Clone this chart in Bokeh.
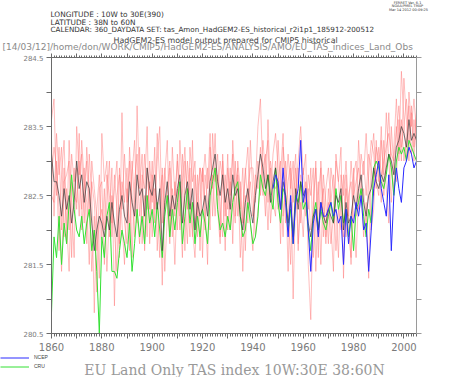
from bokeh.plotting import figure
from bokeh.models import (Range1d, LinearAxis, FixedTicker, CustomJSTickFormatter,
                          Label, Legend, LegendItem)
from bokeh.embed import file_html
from bokeh.resources import INLINE

# ---------------- data ----------------
years = list(range(1860, 2006))
ncep_years = list(range(1948, 2006))

ens_mean = [
    283.1, 282.7, 282.7, 282.5, 282.2, 282.6, 282.3, 282.5, 282.1, 282.4,
    283.0, 282.6, 282.8, 282.4, 282.7, 282.6, 282.1, 281.7, 282.0, 282.2,
    282.1, 281.9, 282.2, 282.0, 282.4, 282.1, 281.9, 282.3, 282.5, 282.2,
    282.1, 282.7, 282.4, 282.2, 282.8, 282.5, 282.6, 282.2, 282.9, 282.6,
    282.5, 282.8, 282.3, 282.6, 281.7, 282.4, 282.7, 282.2, 282.5, 282.3,
    282.6, 282.8, 282.1, 282.5, 282.7, 282.3, 282.6, 282.0, 282.4, 282.2,
    282.3, 282.5, 282.2, 282.7, 282.9, 283.1, 282.7, 282.5, 282.8, 282.4,
    282.6, 282.3, 282.8, 282.5, 282.6, 282.2, 282.0, 282.4, 282.6, 282.3,
    282.1, 282.5, 282.8, 283.1, 282.9, 282.6, 282.8, 282.4, 282.7, 282.9,
    282.6, 282.3, 282.7, 282.5, 282.1, 282.4, 281.9, 282.6, 282.3, 282.7,
    282.5, 282.6, 282.1, 281.9, 282.2, 282.3, 282.0, 282.4, 282.2, 282.1,
    282.3, 282.2, 282.1, 282.5, 282.4, 282.6, 282.0, 282.4, 282.1, 282.2,
    282.5, 282.3, 282.6, 282.8, 282.4, 282.2, 282.5, 282.6, 282.9, 282.7,
    282.6, 282.8, 282.7, 282.9, 283.1, 283.0, 282.8, 283.2, 283.3, 283.5,
    283.4, 283.2, 283.6, 283.3, 283.4, 283.3,
]

cru = [
    280.8, 281.9, 281.6, 282.2, 281.5, 282.1, 281.8, 282.4, 282.8, 282.3,
    282.0, 281.9, 282.2, 281.8, 282.1, 282.3, 281.7, 282.0, 281.4, 280.5,
    281.9, 281.6, 282.2, 282.4, 281.4, 281.4, 281.3, 281.7, 282.0, 281.8,
    281.6, 282.1, 281.4, 281.8, 282.3, 281.9, 282.2, 281.8, 282.5, 282.1,
    282.3, 281.9, 282.4, 282.0, 281.6, 282.2, 282.5, 281.9, 282.3, 282.0,
    282.4, 282.7, 281.8, 282.2, 282.6, 282.1, 282.4, 281.8, 282.2, 281.9,
    282.3, 282.1, 281.8, 282.5, 282.7, 282.9, 282.3, 282.0, 282.1, 281.9,
    282.2, 282.0, 282.4, 282.6, 282.7, 282.2, 281.9, 282.0, 282.4, 282.1,
    281.8, 281.9, 282.2, 282.8, 282.6, 282.5, 282.8, 282.5, 282.3, 282.9,
    282.4, 282.1, 282.6, 282.5, 282.0, 282.3, 281.8, 282.5, 282.4, 282.7,
    282.3, 282.4, 282.0, 281.7, 282.2, 282.4, 282.0, 282.3, 282.1, 282.0,
    282.2, 282.4, 282.1, 282.6, 282.3, 282.5, 282.1, 282.3, 281.9, 282.2,
    281.7, 282.3, 282.4, 282.6, 282.2, 281.9, 282.3, 282.1, 282.9, 283.0,
    282.9, 282.7, 282.6, 282.8, 283.1, 282.9, 282.5, 283.0, 283.2, 283.1,
    283.2, 283.0, 283.3, 283.2, 283.1, 283.0,
]

ncep = [
    282.6, 282.8,
    282.7, 282.3, 282.9, 282.4, 281.9, 282.5, 281.8, 282.4, 282.6, 283.3,
    282.4, 282.6, 282.0, 281.4, 282.1, 282.3, 281.9, 282.4, 282.2, 282.2,
    282.3, 282.4, 282.2, 282.3, 282.1, 282.2, 281.5, 282.3, 281.8, 282.2,
    282.1, 282.4, 282.2, 282.5, 282.0, 282.1, 281.4, 282.0, 282.6, 282.8,
    283.0, 282.6, 282.4, 282.2, 282.8, 281.7, 282.5, 282.9, 282.6, 282.4,
    282.9, 283.0, 283.2, 283.1, 282.9, 283.0,
]

member_1 = [
    283.6, 283.9, 282.5, 283.2, 282.0, 282.9, 281.8, 283.3, 282.4, 281.6,
    283.5, 282.8, 283.1, 282.1, 283.2, 282.6, 281.4, 282.2, 281.1, 282.6,
    282.7, 281.5, 282.4, 283.0, 281.9, 282.8, 282.3, 281.6, 283.7, 282.1,
    281.8, 283.2, 282.5, 281.9, 283.8, 282.6, 283.1, 281.7, 282.9, 282.3,
    283.0, 282.1, 283.4, 282.7, 281.2, 282.8, 283.3, 281.9, 282.6, 282.2,
    283.1, 282.4, 281.6, 283.0, 282.5, 281.9, 283.3, 282.0, 282.8, 281.7,
    282.9, 282.4, 281.5, 283.2, 282.6, 283.4, 282.3, 281.8, 283.0, 282.2,
    283.1, 282.0, 283.3, 282.6, 282.9, 281.6, 282.3, 282.8, 283.2, 282.1,
    281.7, 282.6, 283.5, 283.9, 282.8, 282.2, 283.6, 282.5, 283.1, 283.4,
    282.9, 281.8, 283.2, 282.7, 281.4, 282.9, 281.0, 282.6, 283.0, 283.5,
    282.8, 283.1, 281.5, 280.7, 282.4, 282.9, 281.6, 283.0, 282.3, 281.8,
    282.6, 282.1, 281.4, 283.1, 282.7, 283.2, 281.3, 282.8, 282.0, 281.6,
    282.9, 282.2, 283.3, 282.6, 281.9, 282.4, 281.3, 283.0, 283.4, 282.7,
    282.5, 283.3, 282.8, 283.7, 283.0, 282.4, 283.2, 283.9, 283.1, 284.3,
    283.6, 283.0, 284.0, 283.5, 283.9, 283.4,
]

member_2 = [
    282.8, 283.2, 282.9, 281.7, 282.8, 283.3, 282.1, 281.4, 282.7, 282.5,
    282.4, 283.0, 282.3, 282.9, 281.8, 283.1, 282.5, 280.8, 282.3, 282.8,
    281.9, 282.6, 281.4, 282.2, 282.9, 280.9, 282.5, 282.8, 282.1, 281.5,
    282.6, 282.0, 283.0, 282.4, 282.1, 283.2, 281.8, 282.5, 281.9, 283.0,
    282.4, 283.2, 281.7, 282.5, 282.8, 281.4, 282.2, 282.9, 281.9, 282.7,
    282.0, 283.3, 282.6, 281.7, 283.0, 282.5, 281.9, 282.8, 282.2, 282.9,
    281.6, 282.8, 282.4, 282.0, 283.4, 282.7, 283.1, 282.3, 281.9, 282.8,
    282.3, 282.9, 281.8, 283.0, 282.2, 282.7, 281.4, 282.5, 282.1, 283.3,
    282.5, 281.9, 282.3, 282.6, 283.3, 282.8, 282.0, 282.9, 282.4, 282.2,
    283.3, 282.6, 281.9, 283.0, 282.4, 281.5, 282.7, 283.1, 281.8, 282.4,
    281.9, 282.7, 282.3, 282.9, 281.6, 282.2, 282.7, 281.5, 282.8, 282.4,
    281.8, 282.9, 282.6, 281.7, 282.3, 282.0, 282.8, 281.9, 282.5, 282.7,
    282.2, 281.6, 282.5, 283.1, 282.8, 283.4, 282.7, 282.0, 282.3, 283.2,
    283.0, 282.4, 283.3, 282.6, 282.1, 283.5, 282.9, 282.7, 283.6, 283.0,
    284.2, 283.6, 283.0, 283.8, 283.2, 283.7,
]

member_3 = [
    282.5, 282.4, 283.4, 282.8, 283.2, 281.9, 282.6, 282.0, 283.1, 282.7,
    282.9, 282.2, 283.3, 282.7, 282.4, 281.5, 283.0, 282.6, 282.2, 281.3,
    283.4, 282.7, 283.0, 281.9, 282.5, 282.0, 281.4, 282.9, 282.3, 283.1,
    282.4, 283.0, 281.6, 282.7, 283.1, 282.2, 282.8, 282.6, 283.5, 281.8,
    282.8, 282.3, 283.0, 283.5, 282.1, 282.9, 282.4, 281.8, 283.2, 282.5,
    283.0, 282.2, 282.7, 283.2, 282.3, 282.9, 282.0, 281.6, 282.5, 282.9,
    282.7, 283.1, 282.6, 283.4, 282.2, 282.9, 282.5, 283.0, 282.7, 281.7,
    282.9, 282.5, 283.1, 282.2, 283.0, 282.6, 282.1, 282.9, 282.4, 282.7,
    282.2, 282.8, 282.6, 283.2, 282.5, 283.0, 283.3, 282.1, 282.6, 283.0,
    282.3, 282.8, 283.4, 282.1, 282.7, 283.0, 282.4, 282.9, 281.7, 282.8,
    282.6, 282.2, 282.8, 282.5, 282.9, 281.4, 282.5, 282.9, 281.9, 282.6,
    282.9, 282.4, 282.8, 282.3, 281.6, 282.8, 282.5, 283.0, 282.3, 281.5,
    282.8, 283.0, 282.3, 282.6, 283.0, 282.5, 283.1, 282.9, 282.5, 283.3,
    282.7, 283.5, 282.5, 283.0, 283.7, 282.9, 282.6, 283.4, 283.8, 283.2,
    283.5, 283.9, 283.3, 283.7, 283.0, 283.8,
]

member_4 = [
    283.3, 282.2, 283.0, 282.3, 281.4, 282.7, 282.8, 283.0, 281.6, 282.9,
    282.3, 283.4, 282.0, 282.6, 283.0, 282.2, 282.7, 282.4, 281.7, 282.1,
    282.3, 282.0, 282.8, 282.5, 282.1, 282.6, 283.0, 281.8, 282.7, 282.4,
    282.9, 281.7, 282.8, 283.3, 282.2, 281.8, 282.5, 283.1, 282.3, 282.7,
    281.9, 282.6, 282.4, 281.6, 282.9, 282.3, 282.6, 283.0, 282.4, 281.5,
    282.6, 282.0, 283.1, 282.4, 281.8, 283.2, 282.7, 283.0, 281.9, 282.4,
    282.9, 282.0, 282.9, 282.5, 282.8, 282.2, 282.8, 281.9, 283.1, 282.4,
    282.0, 282.7, 282.4, 282.1, 282.8, 282.3, 282.9, 281.7, 282.6, 282.9,
    282.9, 282.4, 283.0, 282.5, 282.9, 283.1, 282.4, 283.0, 282.7, 282.6,
    282.7, 283.0, 282.2, 282.6, 283.1, 282.6, 283.0, 282.3, 282.9, 282.1,
    282.9, 282.4, 282.6, 282.0, 282.3, 283.0, 281.9, 282.3, 282.6, 281.9,
    282.4, 281.8, 282.2, 283.0, 282.7, 282.2, 281.9, 282.6, 282.2, 283.0,
    282.5, 282.7, 282.9, 282.4, 282.6, 282.0, 282.8, 283.3, 283.1, 282.6,
    283.2, 282.8, 283.0, 283.2, 283.4, 283.1, 283.0, 283.5, 283.0, 283.6,
    283.0, 283.3, 283.8, 283.1, 283.6, 283.2,
]

x_label_years = [1860, 1880, 1900, 1920, 1940, 1960, 1980, 2000]
y_label_values = [280.5, 281.5, 282.5, 283.5, 284.5]

W = 452
HEAD_H, MAIN_H, FOOT_H = 52, 302, 23
MAIN_TOP = HEAD_H
FOOT_TOP = HEAD_H + MAIN_H

NCEP_COLOR = "#2a2aff"
CRU_COLOR = "#33e033"


def bare(fig):
    fig.xgrid.visible = False
    fig.ygrid.visible = False
    fig.outline_line_color = None


# ---------------- main figure ----------------
p = figure(width=W, height=MAIN_H, output_backend="svg", toolbar_location=None,
           x_range=Range1d(1860, 2005), y_range=Range1d(280.5, 284.5),
           min_border_left=51, min_border_right=36, min_border_top=5,
           min_border_bottom=21, x_axis_type=None, y_axis_type=None)
bare(p)

AX = "#6a6a6a"
LBL = "#7a7a7a"

xticker = FixedTicker(ticks=list(range(1860, 2010, 10)),
                      minor_ticks=list(range(1860, 2006)))
yticker = FixedTicker(ticks=[280.5 + 0.5 * i for i in range(9)], minor_ticks=[])

xfmt = CustomJSTickFormatter(args=dict(lab=x_label_years),
                             code="return lab.includes(Math.round(tick)) ? String(Math.round(tick)) : '';")
yfmt = CustomJSTickFormatter(args=dict(lab=y_label_values),
                             code="for (const v of lab) { if (Math.abs(v - tick) < 1e-6) return tick.toFixed(1); } return '';")
blank = CustomJSTickFormatter(code="return '';")


def style(ax, labels=True):
    ax.axis_line_color = AX
    ax.major_tick_line_color = AX
    ax.minor_tick_line_color = AX
    ax.major_tick_in = 0
    ax.minor_tick_in = 0
    ax.major_label_text_color = LBL
    ax.major_label_text_font = "DejaVu Sans"
    if not labels:
        ax.major_label_text_font_size = "0px"
        ax.major_label_standoff = 0


bottom = LinearAxis(ticker=xticker, formatter=xfmt)
style(bottom)
bottom.major_tick_out = 5
bottom.minor_tick_out = 3
bottom.major_label_text_font_size = "10px"
bottom.major_label_standoff = 4
p.add_layout(bottom, "below")

top = LinearAxis(ticker=xticker, formatter=blank)
style(top, labels=False)
top.major_tick_out = 4
top.minor_tick_out = 2
p.add_layout(top, "above")

left = LinearAxis(ticker=yticker, formatter=yfmt)
style(left)
left.major_tick_out = 5
left.major_label_text_font_size = "7px"
left.major_label_standoff = 3
p.add_layout(left, "left")

right = LinearAxis(ticker=yticker, formatter=blank)
style(right, labels=False)
right.axis_line_color = "#9a9a9a"
right.major_tick_line_color = "#9a9a9a"
right.major_tick_out = 5
p.add_layout(right, "right")

for m in (member_1, member_2, member_3, member_4):
    p.line(years, m, line_color="#ff7070", line_alpha=0.45, line_width=1)

p.line(years, cru, line_color=CRU_COLOR, line_width=1)
p.line(years, ens_mean, line_color="#3a3a3a", line_alpha=0.7, line_width=1)
p.line(ncep_years, ncep, line_color=NCEP_COLOR, line_width=1)


def lab(fig, text, x, y, size, color="#333333", align="left", font="DejaVu Sans"):
    fig.add_layout(Label(x=x, y=y, text=text, text_font_size=size, text_color=color,
                         text_align=align, text_baseline="middle", text_font=font))


# ---------------- header: page coordinates (y from top) ----------------
head = figure(width=W, height=HEAD_H, output_backend="svg", toolbar_location=None,
              x_range=Range1d(0, W), y_range=Range1d(HEAD_H, 0),
              min_border=0, x_axis_type=None, y_axis_type=None)
bare(head)

lab(head, "FERRET Ver. 6.1", 407, 2.7, "3.5px", align="center")
lab(head, "NOAA/PMEL TMAP", 407, 5.8, "3.5px", align="center")
lab(head, "Mar 14 2012 00:09:25", 408, 9.3, "3.5px", align="center")
lab(head, "LONGITUDE : 10W to 30E(390)", 50, 13.8, "7.4px")
lab(head, "LATITUDE : 38N to 60N", 50, 21.5, "7.4px")
lab(head, "CALENDAR: 360_DAYDATA SET: tas_Amon_HadGEM2-ES_historical_r2i1p1_185912-200512",
    50, 29.2, "7.2px")
lab(head, "HadGEM2-ES model output prepared for CMIP5 historical", 113, 40.3, "7.9px",
    color="#444444")
lab(head, "[14/03/12]/home/don/WORK/CMIP5/HadGEM2-ES/ANALYSIS/AMO/EU_TAS_indices_Land_Obs",
    2, 46.3, "9px", color="#8a8a8a")

# ---------------- footer: legend + caption (y from footer top) ----------------
foot = figure(width=W, height=FOOT_H, output_backend="svg", toolbar_location=None,
              x_range=Range1d(0, W), y_range=Range1d(FOOT_H, 0),
              min_border=0, x_axis_type=None, y_axis_type=None)
bare(foot)

k_ncep = foot.line([0.0], [float("nan")], line_color=NCEP_COLOR, line_width=1)
k_cru = foot.line([0.0], [float("nan")], line_color=CRU_COLOR, line_width=1)
legend = Legend(items=[LegendItem(label="NCEP", renderers=[k_ncep]),
                       LegendItem(label="CRU", renderers=[k_cru])],
                location="top_left", orientation="vertical",
                label_text_font_size="5px", label_text_color="#444444",
                glyph_width=29, glyph_height=5, label_height=5, label_width=16,
                spacing=3, padding=0, margin=0, label_standoff=5,
                border_line_color=None, background_fill_alpha=0)
foot.add_layout(legend, "center")

lab(foot, "EU Land Only TAS index 10W:30E 38:60N", 234, 369.3 - FOOT_TOP, "14px",
    color="#999999", align="center", font="DejaVu Serif")

open("out.html", "w").write(file_html([head, p, foot], INLINE))
